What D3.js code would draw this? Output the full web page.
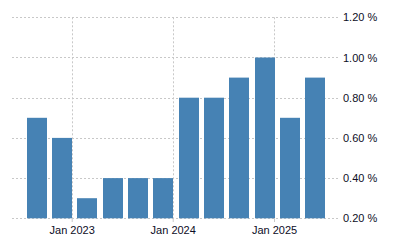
<!DOCTYPE html>
<html><head><meta charset="utf-8">
<script src="https://cdn.jsdelivr.net/npm/d3@7"></script>
<style>html,body{margin:0;padding:0;background:#fff;}svg{display:block;}</style>
</head><body>
<svg id="chart" width="400" height="250"></svg>
<script>
const periods = ["2022-09-30","2022-12-31","2023-03-31","2023-06-30","2023-09-30","2023-12-31","2024-03-31","2024-06-30","2024-09-30","2024-12-31","2025-03-31","2025-06-30"];
const values = [0.7,0.6,0.3,0.4,0.4,0.4,0.8,0.8,0.9,1.0,0.7,0.9];
const yTicks = [0.2,0.4,0.6,0.8,1.0,1.2];
const xTicks = ["2023-01-01","2024-01-01","2025-01-01"];

(function(){
const parse = d3.timeParse("%Y-%m-%d");
const svg = d3.select("#chart");
const pLeft = 12, pRight = 338, pTop = 17.3, pBottom = 218.3;
const font = "'Liberation Sans', Arial, sans-serif";
const textColor = "#0d0d26";

const x = d3.scaleTime()
  .domain([parse("2023-01-01"), parse("2025-01-01")])
  .range([71.7, 274]);
const y = d3.scaleLinear().domain([0.2, 1.2]).range([pBottom, pTop]);
const bw = 20;

// horizontal grid
svg.append("g").selectAll("line").data(yTicks).join("line")
  .attr("x1", pLeft).attr("x2", pRight)
  .attr("y1", d => Math.round(y(d)) + 0.5).attr("y2", d => Math.round(y(d)) + 0.5)
  .attr("stroke", "#c8c8c8").attr("stroke-dasharray", "2,2");

// vertical grid
svg.append("g").selectAll("line").data(xTicks).join("line")
  .attr("x1", d => Math.round(x(parse(d))) + 0.5).attr("x2", d => Math.round(x(parse(d))) + 0.5)
  .attr("y1", pTop).attr("y2", pBottom)
  .attr("stroke", "#c8c8c8").attr("stroke-dasharray", "2,2");

// bars
svg.append("g").selectAll("rect").data(values).join("rect")
  .attr("x", (d, i) => Math.round(x(parse(periods[i])) - bw + 1))
  .attr("width", bw)
  .attr("y", d => y(d))
  .attr("height", d => pBottom - y(d))
  .attr("fill", "#4682b4");

// x axis
const xAxis = d3.axisBottom(x)
  .tickValues(xTicks.map(parse))
  .tickFormat(d3.timeFormat("Jan %Y"))
  .tickSize(4).tickPadding(4);
const gx = svg.append("g").attr("transform", `translate(0,${Math.round(pBottom)})`).call(xAxis);
gx.select(".domain").remove();
gx.selectAll(".tick line").attr("stroke", "#c8c8c8");
gx.selectAll("text").attr("font-family", font).attr("font-size", 11).attr("fill", textColor);

// y axis on right
const yAxis = d3.axisRight(y).tickValues(yTicks)
  .tickFormat(d => d3.format(".2f")(d) + " %")
  .tickSize(0).tickPadding(5);
const gy = svg.append("g").attr("transform", `translate(${pRight},0)`).call(yAxis);
gy.select(".domain").remove();
gy.selectAll("text").attr("font-family", font).attr("font-size", 11).attr("fill", textColor);
})();
</script>
</body></html>
